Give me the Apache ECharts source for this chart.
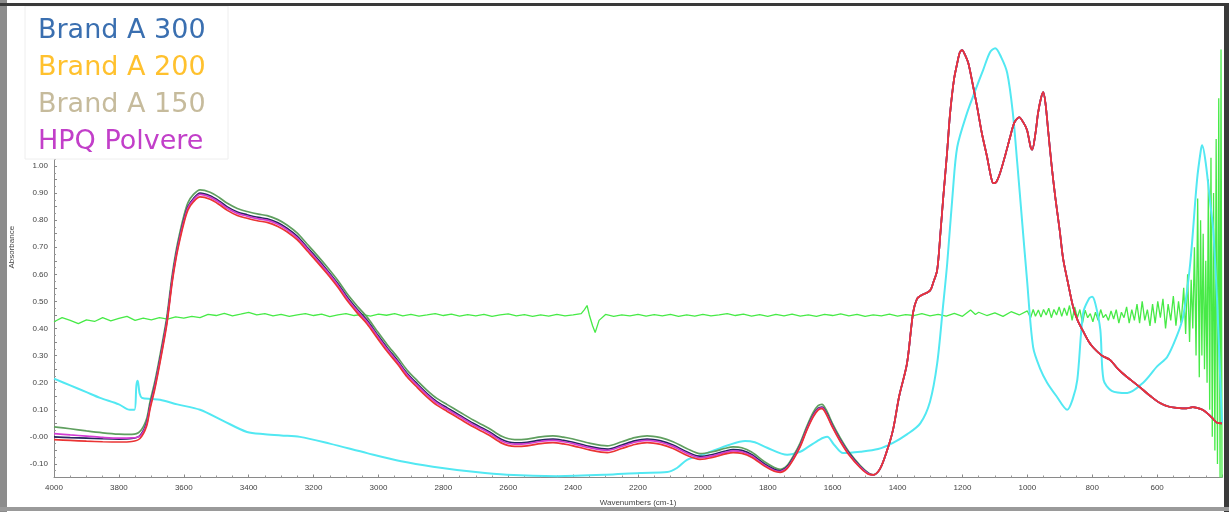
<!DOCTYPE html>
<html>
<head>
<meta charset="utf-8">
<script src="https://cdn.jsdelivr.net/npm/echarts@6/dist/echarts.min.js"></script>
<style>
html,body{margin:0;padding:0;background:#fff;}
#chart{width:1229px;height:512px;}
</style>
</head>
<body>
<div id="chart"></div>
<script>
// ---------- DATA ----------
const legendLabels = ['Brand A 300', 'Brand A 200', 'Brand A 150', 'HPQ Polvere'];
const xTickLabels = [4000, 3800, 3600, 3400, 3200, 3000, 2800, 2600, 2400, 2200, 2000, 1800, 1600, 1400, 1200, 1000, 800, 600];
const yTickValues = [-0.1, 0, 0.1, 0.2, 0.3, 0.4, 0.5, 0.6, 0.7, 0.8, 0.9, 1.0];
const yTickLabels = ['-0.10', '-0.00', '0.10', '0.20', '0.30', '0.40', '0.50', '0.60', '0.70', '0.80', '0.90', '1.00'];
const xAxisTitle = 'Wavenumbers (cm-1)';
const yAxisTitle = 'Absorbance';

// wavenumbers where the four overlapping spectra differ slightly
const groupWn = [4000,3950,3900,3850,3800,3760,3735,3715,3704,3690,
  3679,3665,3652,3636,3624,3612,3600,3587,3570,3550,
  3519,3490,3467,3435,3405,3370,3343,3310,3282,3250,
  3220,3190,3158,3125,3097,3065,3035,3005,2974,2940,
  2912,2880,2850,2820,2788,2750,2708,2660,2620,2580,
  2542,2500,2462,2430,2400,2350,2295,2250,2210,2172,
  2130,2092,2050,2009,1970,1930,1907,1880,1850,1810,
  1780,1762,1740,1720,1700,1680,1660,1645,1633,1620,
  1600,1577,1550,1515,1490];
const greenVals = [0.037,0.03,0.022,0.015,0.01,0.009,0.02,0.065,0.13,0.2,
  0.265,0.355,0.445,0.595,0.685,0.755,0.815,0.865,0.895,0.912,
  0.903,0.883,0.863,0.843,0.832,0.822,0.817,0.802,0.782,0.752,
  0.712,0.672,0.627,0.577,0.529,0.482,0.442,0.392,0.342,0.292,
  0.247,0.207,0.172,0.142,0.119,0.092,0.062,0.032,0.002,-0.01,
  -0.008,0.0,0.004,-0.001,-0.008,-0.023,-0.033,-0.018,-0.003,0.004,
  -0.003,-0.018,-0.043,-0.062,-0.055,-0.042,-0.037,-0.04,-0.056,-0.092,
  -0.113,-0.12,-0.105,-0.068,-0.022,0.038,0.09,0.115,0.12,0.1,
  0.048,-0.003,-0.055,-0.106,-0.133];
const navyVals = [0.0,-0.003,-0.005,-0.007,-0.008,-0.006,0.005,0.05,0.115,0.185,
  0.25,0.34,0.43,0.58,0.67,0.74,0.8,0.85,0.88,0.9,
  0.89,0.87,0.85,0.83,0.82,0.81,0.805,0.79,0.77,0.74,
  0.7,0.66,0.615,0.565,0.517,0.47,0.43,0.38,0.33,0.28,
  0.235,0.195,0.16,0.13,0.107,0.08,0.05,0.02,-0.01,-0.022,
  -0.02,-0.012,-0.008,-0.013,-0.02,-0.035,-0.045,-0.03,-0.015,-0.008,
  -0.015,-0.03,-0.055,-0.072,-0.065,-0.052,-0.047,-0.05,-0.065,-0.1,
  -0.12,-0.125,-0.11,-0.075,-0.03,0.03,0.08,0.105,0.11,0.09,
  0.04,-0.01,-0.06,-0.11,-0.135];
const magentaVals = [0.012,0.007,0.003,-0.002,-0.005,-0.004,0.003,0.045,0.11,0.18,
  0.245,0.335,0.425,0.575,0.665,0.735,0.795,0.845,0.875,0.895,
  0.885,0.865,0.845,0.825,0.815,0.805,0.8,0.785,0.765,0.735,
  0.695,0.655,0.61,0.56,0.512,0.465,0.425,0.375,0.325,0.275,
  0.23,0.19,0.155,0.125,0.102,0.075,0.045,0.015,-0.015,-0.027,
  -0.025,-0.017,-0.013,-0.018,-0.025,-0.04,-0.05,-0.035,-0.02,-0.013,
  -0.02,-0.035,-0.06,-0.077,-0.07,-0.057,-0.052,-0.055,-0.07,-0.105,
  -0.124,-0.128,-0.113,-0.078,-0.033,0.027,0.077,0.102,0.107,0.087,
  0.037,-0.013,-0.063,-0.112,-0.136];
const redVals = [-0.01,-0.013,-0.016,-0.018,-0.019,-0.017,-0.006,0.038,0.103,0.173,
  0.238,0.328,0.418,0.568,0.658,0.728,0.788,0.838,0.868,0.886,
  0.877,0.857,0.837,0.817,0.807,0.797,0.792,0.777,0.757,0.727,
  0.687,0.647,0.602,0.552,0.504,0.457,0.417,0.367,0.317,0.267,
  0.222,0.182,0.147,0.117,0.094,0.067,0.037,0.007,-0.023,-0.035,
  -0.033,-0.025,-0.021,-0.026,-0.033,-0.048,-0.058,-0.043,-0.028,-0.021,
  -0.028,-0.043,-0.068,-0.083,-0.076,-0.063,-0.058,-0.061,-0.075,-0.108,
  -0.127,-0.131,-0.116,-0.081,-0.036,0.024,0.074,0.099,0.104,0.084,
  0.034,-0.016,-0.066,-0.114,-0.138];

// fingerprint region where the four spectra coincide
const fingerprintWn = [1475,1455,1435,1414,1395,1371,1352,1340,1330,1300,
  1290,1278,1268,1259,1248,1238,1226,1216,1208,1201,
  1192,1182,1168,1155,1140,1124,1112,1105,1096,1084,
  1068,1053,1040,1025,1012,1001,990,985,975,967,
  958,951,944,936,925,914,900,890,875,859,
  845,828,810,797,770,745,720,692,665,643,
  620,591,565,538,510,490,477,460,446,430,
  415,400];
const fingerprintVals = [-0.14,-0.12,-0.06,0.026,0.15,0.27,0.46,0.51,0.52,0.54,
  0.57,0.615,0.75,0.886,1.04,1.195,1.32,1.38,1.42,1.428,
  1.41,1.38,1.3,1.22,1.12,1.033,0.96,0.937,0.94,0.974,
  1.04,1.107,1.16,1.18,1.16,1.133,1.07,1.06,1.12,1.195,
  1.25,1.273,1.23,1.133,1.0,0.886,0.76,0.66,0.57,0.48,
  0.43,0.39,0.35,0.33,0.3,0.284,0.25,0.22,0.195,0.173,
  0.15,0.125,0.112,0.107,0.105,0.11,0.107,0.1,0.088,0.07,
  0.052,0.05];

// cyan spectrum [wavenumber, absorbance]
const cyanSpectrum = [[4000,0.215],[3950,0.19],[3900,0.165],[3858,0.144],[3800,0.12],[3766,0.1],[3752,0.1],[3746,0.19],[3742,0.207],[3736,0.16],
  [3729,0.144],[3700,0.14],[3673,0.137],[3620,0.12],[3550,0.1],[3480,0.06],[3405,0.018],[3350,0.01],[3300,0.005],[3242,0.0],
  [3150,-0.025],[3035,-0.06],[2930,-0.09],[2832,-0.11],[2700,-0.13],[2604,-0.14],[2450,-0.145],[2300,-0.14],[2194,-0.133],[2110,-0.13],
  [2080,-0.115],[2049,-0.085],[1987,-0.06],[1920,-0.03],[1870,-0.015],[1840,-0.02],[1802,-0.04],[1740,-0.066],[1700,-0.055],[1679,-0.04],
  [1640,-0.01],[1617,0.0],[1595,-0.03],[1568,-0.06],[1515,-0.055],[1460,-0.045],[1414,-0.022],[1370,0.01],[1330,0.05],[1300,0.13],
  [1278,0.27],[1260,0.48],[1247,0.64],[1230,0.9],[1216,1.07],[1186,1.195],[1160,1.28],[1136,1.355],[1115,1.42],[1099,1.435],
  [1080,1.4],[1062,1.343],[1045,1.2],[1031,1.01],[1015,0.78],[1001,0.58],[982,0.33],[960,0.25],[939,0.2],[910,0.15],
  [877,0.1],[860,0.14],[846,0.21],[828,0.457],[810,0.51],[800,0.517],[790,0.49],[775,0.395],[765,0.21],[740,0.17],
  [692,0.162],[643,0.2],[600,0.26],[569,0.295],[540,0.37],[520,0.443],[498,0.64],[477,0.948],[465,1.06],[461,1.077],
  [450,1.01],[435,0.85],[427,0.764],[415,0.5],[405,0.2],[400,0.05]];

// bright green noisy spectrum [wavenumber, absorbance]
const noiseSpectrum = [[4000,0.425],[3975,0.44],[3950,0.43],[3925,0.418],[3900,0.432],[3875,0.426],[3850,0.44],[3825,0.428],[3800,0.437],[3775,0.445],
  [3750,0.43],[3725,0.438],[3700,0.432],[3675,0.44],[3650,0.435],[3625,0.443],[3600,0.438],[3575,0.445],[3550,0.44],[3525,0.452],
  [3500,0.448],[3475,0.456],[3450,0.447],[3425,0.453],[3400,0.46],[3375,0.45],[3350,0.455],[3325,0.447],[3300,0.452],[3275,0.445],
  [3250,0.45],[3225,0.455],[3200,0.448],[3175,0.453],[3150,0.444],[3125,0.45],[3100,0.455],[3075,0.448],[3050,0.452],[3025,0.446],
  [3000,0.453],[2975,0.449],[2950,0.455],[2925,0.447],[2900,0.452],[2875,0.446],[2850,0.45],[2825,0.455],[2800,0.448],[2775,0.453],
  [2750,0.446],[2725,0.451],[2700,0.447],[2675,0.452],[2650,0.445],[2625,0.45],[2600,0.454],[2575,0.447],[2550,0.451],[2525,0.445],
  [2500,0.45],[2475,0.446],[2450,0.452],[2425,0.447],[2400,0.45],[2375,0.455],[2365,0.47],[2357,0.485],[2350,0.45],[2340,0.41],
  [2332,0.385],[2320,0.43],[2300,0.452],[2275,0.445],[2250,0.45],[2225,0.447],[2200,0.452],[2175,0.446],[2150,0.451],[2125,0.447],
  [2100,0.452],[2075,0.445],[2050,0.45],[2025,0.446],[2000,0.452],[1975,0.447],[1950,0.45],[1925,0.455],[1900,0.448],[1875,0.453],
  [1850,0.446],[1825,0.451],[1800,0.445],[1775,0.452],[1750,0.447],[1725,0.453],[1700,0.446],[1675,0.45],[1650,0.445],[1625,0.452],
  [1600,0.448],[1575,0.454],[1550,0.447],[1525,0.452],[1500,0.445],[1475,0.45],[1450,0.447],[1425,0.453],[1400,0.446],[1375,0.451],
  [1350,0.448],[1325,0.455],[1300,0.447],[1275,0.452],[1250,0.446],[1225,0.456],[1200,0.445],[1175,0.468],[1160,0.452],[1150,0.46],
  [1125,0.448],[1100,0.458],[1075,0.445],[1050,0.462],[1025,0.45],[1000,0.465],[990,0.44],[982,0.47],[975,0.445],[966,0.468],
  [958,0.442],[950,0.47],[942,0.45],[934,0.475],[926,0.44],[918,0.47],[910,0.45],[902,0.48],[894,0.445],[886,0.476],
  [878,0.448],[870,0.485],[862,0.43],[854,0.48],[846,0.44],[838,0.47],[830,0.42],[822,0.468],[814,0.44],[806,0.455],
  [798,0.425],[790,0.46],[782,0.43],[774,0.47],[766,0.44],[758,0.452],[750,0.43],[742,0.465],[734,0.435],[726,0.47],
  [718,0.42],[710,0.46],[702,0.44],[694,0.48],[686,0.42],[678,0.47],[670,0.43],[662,0.49],[654,0.42],[646,0.5],
  [638,0.43],[630,0.47],[622,0.41],[614,0.49],[606,0.42],[598,0.5],[590,0.44],[582,0.51],[574,0.4],[566,0.49],
  [558,0.43],[550,0.52],[542,0.41],[534,0.5],[526,0.42],[518,0.55],[512,0.38],[506,0.6],[500,0.35],[495,0.58],
  [490,0.4],[485,0.7],[480,0.3],[475,0.88],[470,0.22],[466,0.8],[462,0.3],[458,0.75],[454,0.25],[450,0.65],
  [446,0.2],[442,0.95],[438,0.1],[434,1.03],[430,0.0],[426,0.9],[422,-0.05],[418,1.1],[414,-0.1],[410,1.25],
  [406,-0.15],[403,1.43],[400,-0.15]];

// ---------- BUILD ----------
function pairs(wn, vals) {
  const out = [];
  for (let i = 0; i < Math.min(wn.length, vals.length); i++) out.push([wn[i], vals[i]]);
  return out;
}
const fingerprint = pairs(fingerprintWn, fingerprintVals);
const groupSeries = [
  { vals: greenVals, color: '#5f9f5f' },
  { vals: navyVals, color: '#26265e' },
  { vals: magentaVals, color: '#d23cd2' },
  { vals: redVals, color: '#ea3434' }
];
const legendColors = ['#3a6fb0', '#ffc12e', '#c6bb9c', '#c23fc9'];

const series = [
  { type: 'line', data: noiseSpectrum, showSymbol: false, symbol: 'none', silent: true,
    lineStyle: { color: '#47ea47', width: 1.3 }, z: 2 },
  { type: 'line', data: cyanSpectrum, showSymbol: false, symbol: 'none', silent: true, smooth: 0.3,
    lineStyle: { color: '#52e8f2', width: 2 }, z: 3 }
];
groupSeries.forEach((g, k) => {
  series.push({
    type: 'line', data: pairs(groupWn, g.vals).concat(fingerprint), showSymbol: false, symbol: 'none',
    silent: true, smooth: 0.3, lineStyle: { color: g.color, width: 1.7 }, z: 4 + k
  });
});

const graphics = [
  // outer frame
  { type: 'rect', shape: { x: 0, y: 0, width: 7, height: 512 }, style: { fill: '#8c8c8c' }, z: 200 },
  { type: 'rect', shape: { x: 0, y: 3, width: 1229, height: 3 }, style: { fill: '#3a3a3a' }, z: 200 },
  { type: 'rect', shape: { x: 1224, y: 3, width: 5, height: 509 }, style: { fill: '#3a3a3a' }, z: 200 },
  { type: 'rect', shape: { x: 0, y: 507, width: 1229, height: 4 }, style: { fill: '#9a9a9a' }, z: 200 },
  // legend box
  { type: 'rect', shape: { x: 25, y: 6, width: 203, height: 153 }, style: { fill: '#ffffff', stroke: '#eeeeee', lineWidth: 1 }, z: 150 }
];
const legendY = [31, 68, 105, 142];
legendLabels.forEach((t, i) => {
  graphics.push({ type: 'text', x: 38, y: legendY[i], z: 160,
    style: { text: t, fill: legendColors[i], fontSize: 27, fontFamily: 'DejaVu Sans', verticalAlign: 'middle', align: 'left' } });
});

const chart = echarts.init(document.getElementById('chart'), null, { renderer: 'canvas' });
chart.setOption({
  animation: false,
  backgroundColor: '#ffffff',
  grid: { left: 54, right: 7, top: 17, height: 460.5, containLabel: false },
  xAxis: {
    type: 'value', inverse: true, min: 400, max: 4000, interval: 200,
    name: xAxisTitle, nameLocation: 'middle', nameGap: 21,
    nameTextStyle: { fontSize: 8, color: '#444', fontFamily: 'Liberation Sans' },
    axisLine: { show: true, onZero: false, lineStyle: { color: '#8a8a8a', width: 1 } },
    axisTick: { show: true, inside: true, length: 3, lineStyle: { color: '#8a8a8a' } },
    minorTick: { show: true, splitNumber: 4, length: 2, lineStyle: { color: '#9a9a9a' } },
    splitLine: { show: false },
    axisLabel: { showMinLabel: false, fontSize: 8, color: '#444', margin: 6, fontFamily: 'Liberation Sans',
      formatter: v => (xTickLabels.indexOf(Math.round(v)) >= 0 ? String(Math.round(v)) : '') }
  },
  yAxis: {
    type: 'value', min: -0.15, max: 1.55, interval: 0.05,
    name: yAxisTitle, nameLocation: 'middle', nameGap: 38, nameRotate: 90,
    nameTextStyle: { fontSize: 8, color: '#444', fontFamily: 'Liberation Sans' },
    axisLine: { show: true, onZero: false, lineStyle: { color: '#8a8a8a', width: 1 } },
    axisTick: { show: true, inside: true, length: 3, lineStyle: { color: '#8a8a8a' } },
    minorTick: { show: true, splitNumber: 2, length: 2, lineStyle: { color: '#9a9a9a' } },
    splitLine: { show: false },
    axisLabel: { fontSize: 8, color: '#444', margin: 6, fontFamily: 'Liberation Sans',
      formatter: v => {
        for (let i = 0; i < yTickValues.length; i++) if (Math.abs(yTickValues[i] - v) < 1e-6) return yTickLabels[i];
        return '';
      } }
  },
  graphic: { elements: graphics },
  series: series
});
</script>
</body>
</html>
